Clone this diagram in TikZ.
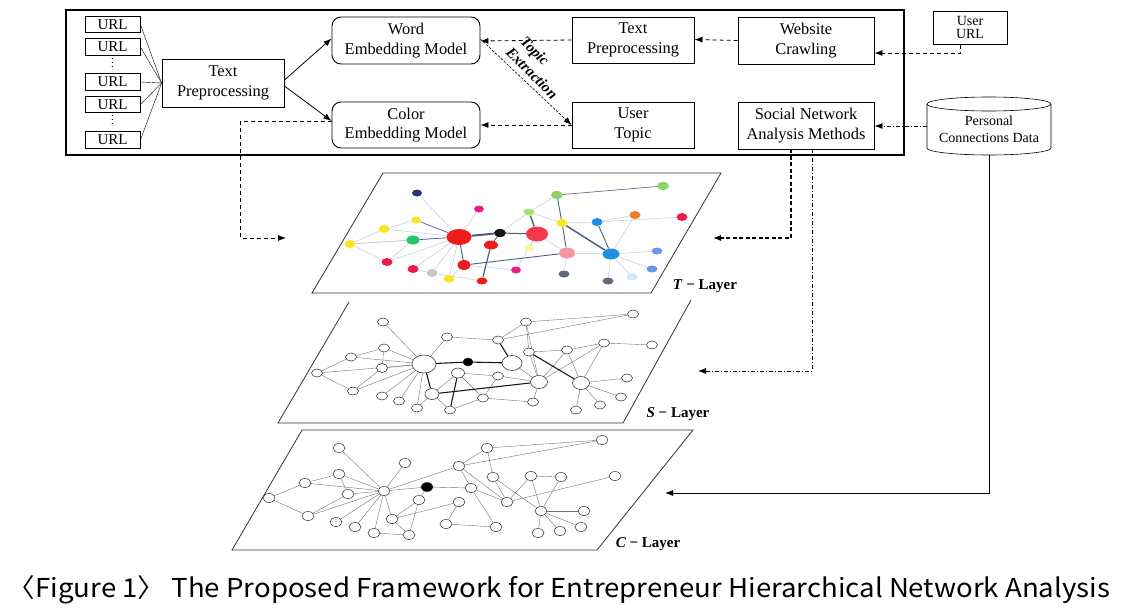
\documentclass[tikz,border=0pt]{standalone}
\usepackage{fontspec}
\usepackage{graphicx}
\setmainfont{Liberation Serif}
\newfontfamily\capfont{Noto Sans CJK KR}
\usetikzlibrary{shapes.geometric,arrows.meta,backgrounds}
\definecolor{tnavy}{HTML}{1F3A6E}
\definecolor{tmag}{HTML}{E91E8C}
\definecolor{tyel}{HTML}{FCE51C}
\definecolor{tgreen}{HTML}{1FC96A}
\definecolor{tred}{HTML}{F01C1C}
\definecolor{tblk}{HTML}{151515}
\definecolor{tcrim}{HTML}{EA1E4B}
\definecolor{tlgray}{HTML}{C8C8C8}
\definecolor{tlgreen}{HTML}{A8E26E}
\definecolor{tgreenb}{HTML}{8FD46A}
\definecolor{tcoral}{HTML}{F2384E}
\definecolor{tpyel}{HTML}{FBF6A6}
\definecolor{tpink}{HTML}{F6959E}
\definecolor{tblue}{HTML}{1E8FE3}
\definecolor{torange}{HTML}{EA7A2E}
\definecolor{tlblue}{HTML}{6A96EC}
\definecolor{tpblue}{HTML}{CFE7FB}
\definecolor{tgray}{HTML}{5F6B7B}
\definecolor{tedge}{HTML}{BCCADB}
\definecolor{tedged}{HTML}{4A5E82}
\newcommand\urldots{\vbox{\baselineskip=4pt\lineskiplimit=-10pt\hbox{.}\hbox{.}\hbox{.}}}
\begin{document}
\begin{tikzpicture}[x=1pt,y=-1pt,
 box/.style={draw, line width=0.9pt, align=center, inner sep=0pt, font=\fontsize{16.4}{19.5}\selectfont},
 rbox/.style={box, rounded corners=9pt},
 urlbox/.style={draw, line width=0.9pt, inner sep=0pt, minimum width=55pt, minimum height=16.5pt, font=\fontsize{15}{15}\selectfont},
 arr/.style={-{Latex[length=8pt,width=6pt]}, line width=0.8pt},
 dsh/.style={arr, dash pattern=on 4pt off 3pt},
 dshdot/.style={arr, dash pattern=on 4pt off 2pt on 1pt off 2pt},
 fine/.style={arr, line width=0.6pt, dash pattern=on 2.5pt off 1.5pt},
 tdot/.style={ellipse, inner sep=0pt, draw=none},
 sdot/.style={ellipse, inner sep=0pt, draw=black!85, line width=0.5pt, fill=white},
 thin/.style={line width=0.4pt, draw=black!55},
 thick/.style={line width=1.1pt, draw=black!90},
 lab/.style={font=\bfseries\fontsize{15}{15}\selectfont},
 layer/.style={line width=0.8pt, draw=black!80},
 rot/.style={font=\bfseries\itshape\fontsize{15}{15}\selectfont, rotate=-45, inner sep=0pt},
 dotsnode/.style={font=\fontsize{11}{11}\selectfont, inner sep=0pt}
]
\useasboundingbox (0,0) rectangle (1128,608);

% ---------- top framework ----------
\draw[line width=1.3pt] (66,10) rectangle (904,155);

\node[urlbox] (u1) at (112.5,24.5) {URL};
\node[urlbox] (u2) at (112.5,47) {URL};
\node[urlbox] (u3) at (112.5,82) {URL};
\node[urlbox] (u4) at (112.5,104.5) {URL};
\node[urlbox] (u5) at (112.5,140) {URL};
\node[dotsnode] (d1) at (112.5,63) {\urldots};
\node[dotsnode] (d2) at (112.5,120) {\urldots};

\node[box, minimum width=122pt, minimum height=48pt] (tp1) at (223,83) {Text\\Preprocessing};
\node[rbox, minimum width=148pt, minimum height=47pt] (we) at (406,40.5) {Word\\Embedding Model};
\node[rbox, minimum width=148pt, minimum height=46pt] (ce) at (406,125) {Color\\Embedding Model};
\node[box, minimum width=122pt, minimum height=46pt] (tp2) at (633,40) {Text\\Preprocessing};
\node[box, minimum width=122pt, minimum height=46pt] (ut) at (633,125) {User\\Topic};
\node[box, minimum width=136pt, minimum height=47pt] (wc) at (806,40.5) {Website\\Crawling};
\node[box, minimum width=136pt, minimum height=47pt] (sna) at (806,125.5) {Social Network\\Analysis Methods};
\node[box, line width=1pt, minimum width=74pt, minimum height=33pt, font=\fontsize{14}{12.5}\selectfont] (uurl) at (970,27.5) {User\\URL};

% cylinder
\node[align=center, inner sep=0pt, minimum width=124pt, minimum height=58pt, font=\fontsize{14}{17}\selectfont] (pcd) at (989,129) {Personal\\Connections Data};
\draw[line width=0.6pt] (989,104) ellipse [x radius=62, y radius=7];
\draw[line width=0.6pt] (927,104) -- (927,148) arc[start angle=180, end angle=0, x radius=62, y radius=7] -- (1051,104);

\foreach \u in {u1,u2,u3,u4,u5} \draw[line width=0.4pt] (\u.east) -- (tp1.west);

\draw[arr] ([yshift=3pt]tp1.east) -- ([yshift=2pt]we.west);
\draw[arr] ([yshift=-3pt]tp1.east) -- ([yshift=4pt]ce.west);
\draw[dsh] (tp2.west) -- ([yshift=-0.5pt]we.east);
\draw[dsh] (wc.west) -- ([yshift=0.5pt]tp2.east);
\draw[dsh] (ut.west) -- (ce.east);
\draw[fine] ([yshift=1.5pt]we.east) -- (ut.west);
\node[rot] (tx1) at (534,52) {Topic};
\node[rot] (tx2) at (532,73) {Extraction};
\draw[dsh] ([xshift=-10pt]uurl.south) |- ([yshift=-12.5pt]wc.east);
\draw[dshdot] (927,126) -- ([yshift=-0.5pt]sna.east);

% ---------- layers ----------
\draw[layer] (383,173) -- (721,173) -- (651,293) -- (312,293) -- cycle;
\draw[layer] (349,302) -- (278,423) -- (623,423) -- (691,300);
\draw[layer] (302,430) -- (693,430) -- (597,550) -- (232,550) -- cycle;
\node[lab] (tlab) at (705,286) {\textit{T} − Layer};
\node[lab] (slab) at (678,414) {\textit{S} − Layer};
\node[lab] (clab) at (648,544) {\textit{C} − Layer};

\coordinate (tin) at (286,238);
\coordinate (tr) at (713,238);
\coordinate (sr) at (698,371);
\coordinate (cr) at (665,493);
\draw[dsh] ([yshift=4pt]ce.west) -- ++(-91,0) |- (tin);
\draw[dsh, line width=1.1pt, dash pattern=on 4pt off 2.5pt] ([xshift=-15pt]sna.south) |- (tr);
\draw[dshdot] ([xshift=6pt]sna.south) |- (sr);
\draw[arr, line width=1pt] (989,155) |- (cr);

% ---------- T layer network ----------
\foreach \n/\x/\y/\c/\w/\h in {
 t1/417/193/tnavy/10/7, t2/479/209/tmag/10/7, t3/416/220/tyel/10/7, t4/384/229/tyel/11/8,
 t5/413/240/tgreen/13/9, t6/350/244/tyel/11/8, t7/459/237/tred/25/16, t8/500/233/tblk/12/8,
 t9/491/245/tred/14/9, t10/464/265/tred/13/10, t11/387/262/tcrim/11/8, t12/413/269/tcrim/11/8,
 t13/432/273/tlgray/11/8, t14/449/279/tyel/11/7, t15/482/281/tred/11/7, t16/529/212/tlgreen/11/7,
 t17/557/195/tgreenb/12/8, t18/663/186/tgreenb/12/8, t19/537/234/tcoral/22/15, t20/529/248/tpyel/10/7,
 t21/567/253/tpink/16/11, t22/562/223/tyel/11/8, t23/597/222/tblue/11/8, t24/635/215/torange/11/8,
 t25/682/217/tcrim/11/8, t26/611/254/tblue/17/11, t27/657/251/tlblue/11/7, t28/652/269/tlblue/11/7,
 t29/632/277/tpblue/11/7, t30/564/274/tgray/11/7, t31/608/281/tgray/11/7, t32/516/270/tmag/10/7}
 \node[tdot, fill=\c, minimum width=\w, minimum height=\h] (\n) at (\x,\y) {};

% ---------- S layer network ----------
\foreach \n/\x/\y/\w/\h in {
 s1/383/322/11/8, s2/447/337/11/8, s3/384/348/11/8, s4/351/357/11/8, s5/382/368/11/9,
 s6/317/373/11/8, s7/353/391/11/8, s8/382/396/11/8, s9/399/401/11/8, s10/417/408/11/8,
 s11/432/394/14/11, s12/450/410/11/8, s13/424/364/24/18, s15/458/373/13/10,
 s16/498/376/11/8, s17/483/398/11/8, s18/498/340/11/8, s19/512/363/20/15, s20/526/322/11/8,
 s21/529/352/11/8, s22/539/382/17/13, s23/533/402/11/8, s24/567/350/11/8, s25/604/343/11/8,
 s26/652/345/11/8, s27/633/314/11/8, s28/581/383/17/13, s29/627/378/11/8, s30/621/397/11/8,
 s31/600/405/11/8, s32/576/410/11/8}
 \node[sdot, minimum width=\w, minimum height=\h] (\n) at (\x,\y) {};
\node[sdot, fill=black, minimum width=10, minimum height=8] (s14) at (468,362) {};

% ---------- C layer network ----------
\foreach \n/\x/\y in {
 c1/339/448, c2/405/463, c3/487/448, c4/602/440, c5/459/466, c6/339/474, c7/305/483,
 c8/269/498, c9/348/494, c10/384/491, c12/471/488, c13/493/477, c14/531/476,
 c15/561/477, c16/615/476, c17/507/502, c18/541/511, c19/419/500, c20/459/502, c21/392/519,
 c22/308/516, c23/336/522, c24/355/527, c25/374/533, c26/409/535, c27/446/524, c28/496/527,
 c29/584/511, c30/581/527, c31/560/531, c32/538/533}
 \node[sdot, minimum width=12, minimum height=9] (\n) at (\x,\y) {};
\node[sdot, fill=black, minimum width=12, minimum height=9] (c11) at (427,487) {};

\begin{pgfonlayer}{background}
 \foreach \a/\b in {t7/t1, t7/t4, t7/t6, t7/t11, t7/t12, t7/t13, t7/t14, t7/t2, t6/t5, t6/t11,
   t4/t3, t5/t11, t19/t21, t19/t20, t19/t32, t16/t22, t22/t23, t24/t26, t26/t27, t26/t28,
   t26/t29, t26/t31, t21/t30, t25/t23, t23/t24, t10/t14, t10/t32, t21/t26, t16/t8, t15/t13,
   t17/t16, t4/t6, t12/t13}
   \draw[line width=0.5pt, tedge] (\a) -- (\b);
 \foreach \a/\b/\w in {t7/t8/2, t8/t19/1, t16/t19/1.4, t7/t10/0.9, t9/t15/1.2, t10/t21/0.9,
   t22/t26/1.5, t23/t26/0.9, t17/t22/0.9, t22/t21/0.9, t17/t18/0.6, t9/t8/0.8, t7/t5/0.7, t3/t7/0.7}
   \draw[line width=\w pt, tedged] (\a) -- (\b);
 \foreach \a/\b in {s6/s4, s4/s3, s3/s5, s6/s7, s7/s5, s3/s13, s4/s13, s5/s13, s7/s13, s8/s13,
   s9/s13, s10/s13, s1/s13, s2/s13, s6/s13, s2/s18, s18/s27, s20/s27, s18/s20, s15/s11,
   s15/s17, s16/s17, s16/s22, s19/s22, s20/s22, s21/s22, s24/s22, s25/s22, s25/s28, s24/s28,
   s26/s25, s28/s29, s28/s30, s28/s31, s28/s32, s23/s22, s11/s12, s11/s10, s12/s17, s21/s24,
   s24/s25, s20/s21, s15/s16, s17/s23}
   \draw[thin] (\a) -- (\b);
 \foreach \a/\b in {s13/s14, s14/s19, s19/s18, s13/s11, s11/s22, s15/s12, s21/s28}
   \draw[thick] (\a) -- (\b);
 \foreach \a/\b in {c8/c7, c7/c6, c6/c9, c8/c22, c22/c9, c9/c10, c6/c10, c1/c10, c2/c10, c7/c10,
   c22/c10, c23/c10, c24/c10, c25/c10, c21/c10, c10/c11, c11/c12, c10/c5, c5/c3, c5/c12, c5/c17,
   c3/c13, c3/c4, c12/c17, c12/c28, c13/c17, c14/c17, c14/c18, c15/c18, c13/c18, c18/c29,
   c18/c30, c18/c31, c18/c32, c11/c19, c19/c21, c19/c26, c21/c26, c21/c20, c20/c27, c27/c28,
   c25/c26, c16/c17, c14/c15, c5/c4}
   \draw[thin] (\a) -- (\b);
\end{pgfonlayer}

% ---------- caption ----------
\node[inner sep=0pt] (cap) at (559,590) {\resizebox{1102pt}{\height}{\capfont\fontsize{26}{26}\selectfont 〈Figure 1〉 The Proposed Framework for Entrepreneur Hierarchical Network Analysis}};
\end{tikzpicture}
\end{document}
